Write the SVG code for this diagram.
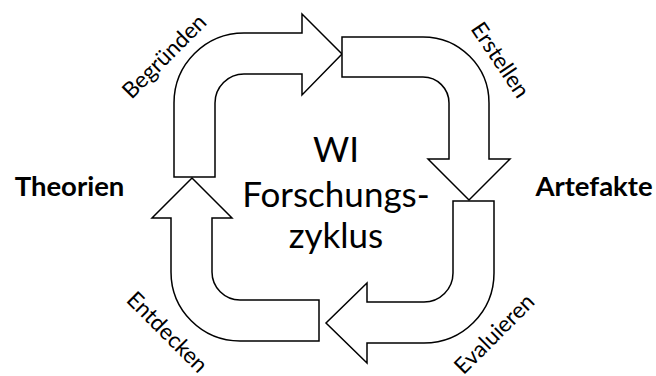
<svg xmlns="http://www.w3.org/2000/svg" width="656" height="376" viewBox="0 0 656 376">
<style>
.arrow{fill:#fff;stroke:#000;stroke-width:1.5;stroke-linejoin:miter}
.t{font-family:Lato,"Open Sans","Liberation Sans",sans-serif;fill:#000}
.lbl{font-size:22.5px}
.title{font-size:35px}
.side{font-size:27.5px;font-weight:bold}
</style>
<rect width="656" height="376" fill="#fff"/>
<g id="connectors">
<g id="arrow-begruenden">
<path class="arrow" d="M174,177 V103 A70,70 0 0 1 244,33 H302 V14 L342,54 L302,95 V74 H244 A29,29 0 0 0 215,103 V177 Z"/>
</g>
<g id="arrow-erstellen">
<path class="arrow" d="M342,37 H423 A66,66 0 0 1 489,103 V159 H510 L469,200 L428,159 H449 V103 A26,26 0 0 0 423,77 H342 Z"/>
</g>
<g id="arrow-evaluieren">
<path class="arrow" d="M453,201 H494 V273 A70,70 0 0 1 424,343 H367 V363 L326,323 L367,283 V302 H424 A29,29 0 0 0 453,273 Z"/>
</g>
<g id="arrow-entdecken">
<path class="arrow" d="M319,300 H240 A28,28 0 0 1 212,272 V218 H232 L192,178 L152,218 H171 V272 A69,69 0 0 0 240,341 H319 Z"/>
</g>
</g>
<g id="label-begruenden"><text class="t lbl" x="163.7" y="55.8" text-anchor="middle" dominant-baseline="central" transform="rotate(-45 163.7 55.8)">Begründen</text></g>
<g id="label-erstellen"><text class="t lbl" x="501" y="59.5" text-anchor="middle" dominant-baseline="central" transform="rotate(56 501 59.5)">Erstellen</text></g>
<g id="label-evaluieren"><text class="t lbl" x="493.8" y="333.3" text-anchor="middle" dominant-baseline="central" transform="rotate(-45 493.8 333.3)">Evaluieren</text></g>
<g id="label-entdecken"><text class="t lbl" x="167.8" y="331.5" text-anchor="middle" dominant-baseline="central" transform="rotate(45 167.8 331.5)">Entdecken</text></g>
<g id="center">
<text class="t title" x="336" y="162" text-anchor="middle">WI</text>
<text class="t title" x="336" y="207" text-anchor="middle">Forschungs-</text>
<text class="t title" x="336" y="248" text-anchor="middle">zyklus</text>
</g>
<g id="theorien"><text class="t side" x="69.5" y="196" text-anchor="middle">Theorien</text></g>
<g id="artefakte"><text class="t side" x="594" y="196" text-anchor="middle">Artefakte</text></g>
</svg>
